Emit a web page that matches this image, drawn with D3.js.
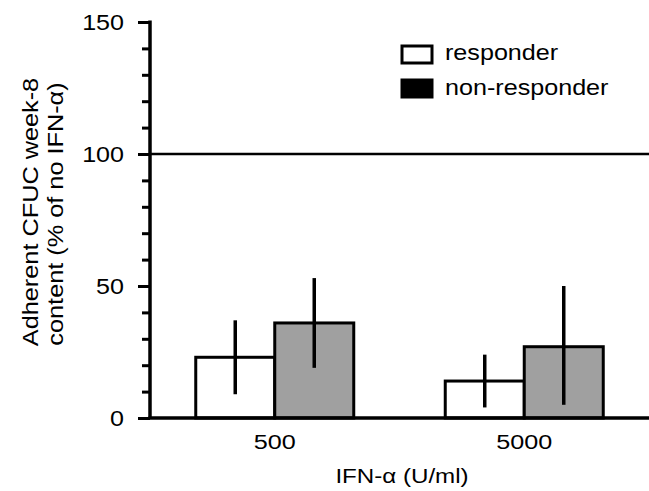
<!DOCTYPE html>
<html>
<head>
<meta charset="utf-8">
<script src="https://cdn.jsdelivr.net/npm/d3@7"></script>
<style>
  body { margin: 0; background: #fff; }
  text { font-family: "Liberation Sans", Arial, sans-serif; fill: #000; }
</style>
</head>
<body>
<div id="graph"></div>
<script>
const doses = ['500', '5000'];
const groups = ['responder', 'non-responder'];
const means = [[23, 36], [14, 27]];
const errLow = [[9, 19], [4, 5]];
const errHigh = [[37, 53], [24, 50]];
const yTicks = [0, 50, 100, 150];
const refLine = 100;

const width = 649, height = 491;
const margin = { top: 22, left: 150, bottom: 73, right: 0 };

const svg = d3.select('#graph').append('svg')
  .attr('width', width).attr('height', height);

// put a text at (x, y), widened along its own direction (original lettering is wider than Arial)
function label(x, y, str, size, anchor, rot, stretch) {
  stretch = stretch || 1.18;
  return svg.append('text')
    .attr('transform', 'translate(' + x + ',' + y + ')' + (rot ? ' rotate(' + rot + ')' : '') + ' scale(' + stretch + ',1)')
    .attr('text-anchor', anchor).attr('font-size', size)
    .text(str);
}

const y = d3.scaleLinear().domain([0, 150]).range([height - margin.bottom, margin.top]);
const x = d3.scalePoint().domain(doses).range([margin.left, width]).padding(0.5);
const bw = 79;
const xs = d3.scaleBand().domain(groups).range([-bw, bw]);
const fills = { 'responder': '#fff', 'non-responder': '#a0a0a0' };

// reference line
svg.append('line')
  .attr('x1', margin.left).attr('x2', width)
  .attr('y1', y(refLine)).attr('y2', y(refLine))
  .attr('stroke', '#000').attr('stroke-width', 2.5);

// bars
doses.forEach(function(d, i) {
  groups.forEach(function(g, j) {
    const bx = x(d) + xs(g);
    svg.append('rect')
      .attr('x', bx).attr('y', y(means[i][j]))
      .attr('width', xs.bandwidth()).attr('height', y(0) - y(means[i][j]))
      .attr('fill', fills[g]).attr('stroke', '#000').attr('stroke-width', 3);
    svg.append('line')
      .attr('x1', bx + xs.bandwidth() / 2).attr('x2', bx + xs.bandwidth() / 2)
      .attr('y1', y(errLow[i][j])).attr('y2', y(errHigh[i][j]))
      .attr('stroke', '#000').attr('stroke-width', 3.5);
  });
});

// y axis
const yAxis = svg.append('g')
  .attr('transform', 'translate(' + margin.left + ',0)')
  .call(d3.axisLeft(y).tickValues(d3.range(0, 151, 10)).tickSize(8).tickFormat(''));
yAxis.selectAll('line').attr('stroke', '#000').attr('stroke-width', 3);
yAxis.selectAll('.tick').filter(function(d) { return d % 50 === 0; })
  .select('line').attr('x2', -12);
yAxis.select('.domain').attr('stroke', '#000').attr('stroke-width', 3.5)
  .attr('d', 'M0,' + y(0) + 'V' + (y(150) - 1.5));

yTicks.forEach(function(d) {
  label(124, y(d) + 8, d, 22, 'end', 0, 1.14);
});

// x axis
svg.append('line')
  .attr('x1', margin.left - 1.5).attr('x2', width)
  .attr('y1', y(0)).attr('y2', y(0))
  .attr('stroke', '#000').attr('stroke-width', 3.5);

doses.forEach(function(d) {
  label(x(d), 449, d, 21, 'middle', 0, 1.2);
});

label(402, 483, 'IFN-α (U/ml)', 21, 'middle', 0, 1.15);

// y title
label(38, 212, 'Adherent CFUC week-8', 22, 'middle', -90, 1.15);
label(63, 214, 'content (% of no IFN-α)', 22, 'middle', -90, 1.15);

// legend
const legendFills = ['#fff', '#000'];
groups.forEach(function(g, i) {
  svg.append('rect')
    .attr('x', 402).attr('y', 46 + i * 34)
    .attr('width', 30).attr('height', 17)
    .attr('fill', legendFills[i]).attr('stroke', '#000').attr('stroke-width', 3);
  label(445, 60 + i * 35, g, 21.5, 'start', 0, 1.17);
});
</script>
</body>
</html>
